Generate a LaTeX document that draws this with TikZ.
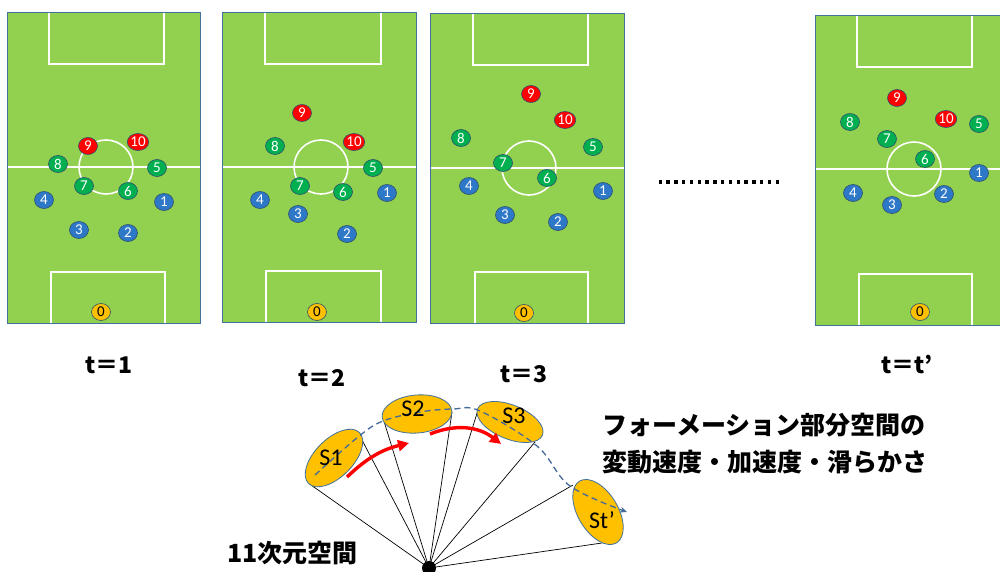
\documentclass[tikz,border=0pt]{standalone}
\usepackage{fontspec}
\setmainfont{Carlito}
\newfontfamily\cjk{Noto Sans CJK JP}
\usetikzlibrary{arrows.meta,shapes.geometric}
\definecolor{pitchgreen}{HTML}{92D050}
\definecolor{pitchedge}{HTML}{41719C}
\definecolor{pred}{HTML}{FF0000}
\definecolor{pgreen}{HTML}{00B050}
\definecolor{pblue}{HTML}{2E78C8}
\definecolor{pgold}{HTML}{FFC000}
\definecolor{dashblue}{HTML}{44699A}
\tikzset{
  pitchfill/.style={fill=pitchgreen, draw=pitchedge, line width=0.8pt},
  pline/.style={draw=white, line width=1.6pt},
  player/.style={ellipse, minimum width=19pt, minimum height=17pt, inner sep=0pt,
    draw=pitchedge!70!black, line width=0.6pt, text=white,
    font=\fontsize{15}{15}\selectfont},
  redp/.style={player, fill=pred},
  greenp/.style={player, fill=pgreen},
  bluep/.style={player, fill=pblue},
  goalp/.style={player, fill=pgold, text=black},
  tlabel/.style={inner sep=0pt, font=\cjk\bfseries\fontsize{23}{23}\selectfont},
  cone/.style={ellipse, fill=pgold, draw=pitchedge, line width=0.8pt, inner sep=0pt},
  slabel/.style={inner sep=0pt, font=\fontsize{24}{24}\selectfont},
  coneline/.style={draw=black, line width=0.7pt},
  redarrow/.style={draw=pred, line width=3.4pt, -{Triangle[length=11pt,width=11pt]}},
  jtext/.style={inner sep=0pt, anchor=west, font=\cjk\bfseries\fontsize{25}{25}\selectfont},
}
\newcommand\drawpitch[8]{%
  \fill[pitchgreen] (#1,-#2) rectangle (#3,-#4);
  \draw[pline] (#5,-#2) -- (#5,-#2-52) -- (#6,-#2-52) -- (#6,-#2);
  \draw[pline] (#7,-#4) -- (#7,-#4+51) -- (#8,-#4+51) -- (#8,-#4);
}
\begin{document}
\begin{tikzpicture}[x=1pt,y=1pt]
\useasboundingbox (0,0) rectangle (1000,-572);

% ---------- pitch 1 ----------
\drawpitch{7}{12}{200}{323}{49}{164}{51}{165}
\draw[pline] (7,-167) -- (200,-167);
\draw[pline] (106,-167) circle[radius=27];
\draw[draw=pitchedge, line width=0.8pt] (7,-12) rectangle (200,-323);
\foreach \n/\x/\y in {9/88/146,10/138/142} \node[redp] (pa\n) at (\x,-\y) {\n};
\foreach \n/\x/\y in {8/58/164,5/157/168,7/84/186,6/128/191} \node[greenp] (pa\n) at (\x,-\y) {\n};
\foreach \n/\x/\y in {4/44/200,1/164/202,3/79/230,2/128/233} \node[bluep] (pa\n) at (\x,-\y) {\n};
\node[goalp] (pa0) at (101,-312) {0};

% ---------- pitch 2 ----------
\drawpitch{222}{12}{416}{322}{265}{381}{266}{381}
\draw[pline] (222,-167) -- (416,-167);
\draw[pline] (321,-167) circle[radius=27];
\draw[draw=pitchedge, line width=0.8pt] (222,-12) rectangle (416,-322);
\foreach \n/\x/\y in {9/302/113,10/354/142} \node[redp] (pb\n) at (\x,-\y) {\n};
\foreach \n/\x/\y in {8/275/146,5/373/168,7/300/186,6/343/192} \node[greenp] (pb\n) at (\x,-\y) {\n};
\foreach \n/\x/\y in {1/387/193,4/260/200,3/298/214,2/347/234} \node[bluep] (pb\n) at (\x,-\y) {\n};
\node[goalp] (pb0) at (317,-312) {0};

% ---------- pitch 3 ----------
\drawpitch{430}{13}{624}{323}{473}{588}{475}{588}
\draw[pline] (430,-168) -- (624,-168);
\draw[pline] (529,-168) circle[radius=27];
\draw[draw=pitchedge, line width=0.8pt] (430,-13) rectangle (624,-323);
\foreach \n/\x/\y in {9/531/94,10/565/120} \node[redp] (pc\n) at (\x,-\y) {\n};
\foreach \n/\x/\y in {8/461/138,5/593/147,7/503/163,6/547/178} \node[greenp] (pc\n) at (\x,-\y) {\n};
\foreach \n/\x/\y in {4/469/186,1/603/191,3/505/215,2/558/222} \node[bluep] (pc\n) at (\x,-\y) {\n};
\node[goalp] (pc0) at (524,-313) {0};

% ---------- pitch 4 ----------
\drawpitch{815}{15}{1008}{325}{857}{972}{859}{972}
\draw[pline] (815,-169) -- (1008,-169);
\draw[pline] (914,-169) circle[radius=27];
\draw[draw=pitchedge, line width=0.8pt] (815,-15) rectangle (1008,-325);
\foreach \n/\x/\y in {9/897/98,10/946/119} \node[redp] (pd\n) at (\x,-\y) {\n};
\foreach \n/\x/\y in {8/850/122,5/979/124,7/887/139,6/925/159} \node[greenp] (pd\n) at (\x,-\y) {\n};
\foreach \n/\x/\y in {1/979/173,4/853/193,2/944/194,3/892/205} \node[bluep] (pd\n) at (\x,-\y) {\n};
\node[goalp] (pd0) at (920,-312) {0};

% dots
\draw[line width=3.5pt, dash pattern=on 3.5pt off 4.3pt] (658.5,-182) -- (781,-182);

% time labels
\node[tlabel] (t1) at (109,-365) {t＝1};
\node[tlabel] (t2) at (322,-378) {t＝2};
\node[tlabel] (t3) at (524,-374) {t＝3};
\node[tlabel] (tt) at (907,-365) {t＝t’};

% ---------- subspace fan ----------
\coordinate (apex) at (429,-568);
\coordinate (s1a) at (311,-485);
\coordinate (s1b) at (362,-440);
\coordinate (s2a) at (383,-418);
\coordinate (s2b) at (452,-412);
\coordinate (s3a) at (478,-410);
\coordinate (s3b) at (535,-442);
\coordinate (s4a) at (573,-485);
\coordinate (s4b) at (602,-543);
\foreach \c in {s1a,s1b,s2a,s2b,s3a,s3b,s4a,s4b} \draw[coneline] (apex) -- (\c);

\node[cone, minimum width=72pt, minimum height=38pt, rotate=45] (s1) at (334,-458) {};
\node[cone, minimum width=70pt, minimum height=38pt, rotate=5] (s2) at (417,-414) {};
\node[cone, minimum width=70pt, minimum height=34pt, rotate=-22] (s3) at (510,-422) {};
\node[cone, minimum width=72pt, minimum height=40pt, rotate=-59] (s4) at (598,-512) {};

\draw[dashblue, line width=1.3pt, dash pattern=on 6pt off 4pt, -{Stealth[length=7pt,width=6pt]}]
  plot[smooth, tension=0.6] coordinates {(315,-475) (358,-437) (383,-421) (420,-412) (453,-409) (480,-411) (537,-446) (570,-486) (627,-512)};

\node[slabel] (l1) at (331,-458) {S1};
\node[slabel] (l2) at (413,-409) {S2};
\node[slabel] (l3) at (514,-416) {S3};
\node[slabel] (l4) at (602,-520) {St’};

\coordinate (r1s) at (347,-477);
\coordinate (r1e) at (409,-443);
\coordinate (r2s) at (430,-434);
\coordinate (r2e) at (501,-444);
\draw[redarrow] (r1s) to[bend left=15] (r1e);
\draw[redarrow] (r2s) to[bend left=30] (r2e);

\fill[black] (apex) circle[radius=7];

\node[jtext] (j0) at (227,-553) {11次元空間};
\node[jtext] (j1) at (602,-425) {フォーメーション部分空間の};
\node[jtext] (j2) at (602,-462) {変動速度・加速度・滑らかさ};
\end{tikzpicture}
\end{document}
